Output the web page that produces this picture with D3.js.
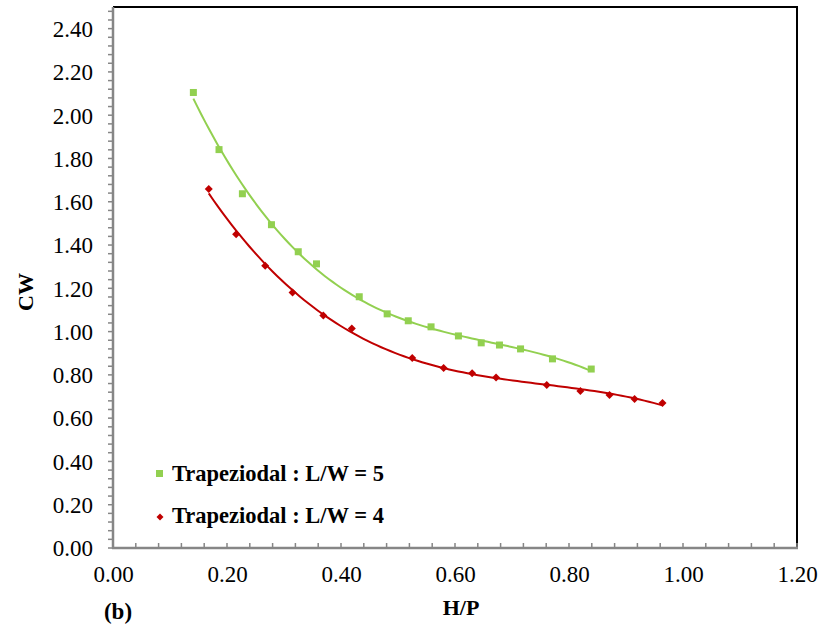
<!DOCTYPE html>
<html>
<head>
<meta charset="utf-8">
<script src="https://cdn.jsdelivr.net/npm/d3@7"></script>
<style>
  html, body { margin: 0; padding: 0; background: #fff; }
  svg { display: block; }
  text { font-family: "Liberation Serif", "Times New Roman", serif; fill: #000; }
</style>
</head>
<body>
<svg id="chart" width="831" height="625"></svg>
<script>
// ---- data ----
const hpL5 = [0.141, 0.186, 0.227, 0.278, 0.325, 0.357, 0.432, 0.481, 0.518, 0.558, 0.606, 0.646, 0.678, 0.715, 0.771, 0.839];
const cwL5 = [2.105, 1.841, 1.637, 1.494, 1.369, 1.313, 1.161, 1.082, 1.050, 1.022, 0.980, 0.948, 0.938, 0.920, 0.874, 0.827];
const hpL4 = [0.168, 0.216, 0.267, 0.315, 0.369, 0.419, 0.525, 0.580, 0.630, 0.672, 0.761, 0.820, 0.871, 0.915, 0.964];
const cwL4 = [1.659, 1.450, 1.304, 1.181, 1.074, 1.014, 0.878, 0.832, 0.807, 0.788, 0.753, 0.725, 0.707, 0.688, 0.670];
const seriesNames = ["Trapeziodal : L/W = 5", "Trapeziodal : L/W = 4"];
const xTicks = [0, 0.2, 0.4, 0.6, 0.8, 1.0, 1.2];
const yTicks = [0, 0.2, 0.4, 0.6, 0.8, 1.0, 1.2, 1.4, 1.6, 1.8, 2.0, 2.2, 2.4];

const svg = d3.select("#chart");
const L = 113, R = 797, T = 7, B = 548;
const x = d3.scaleLinear().domain([0, 1.2]).range([L, R]);
const y = d3.scaleLinear().domain([0, 2.5]).range([B, T]);
const FONT = '"Liberation Serif", "Times New Roman", serif';

// least-squares polynomial trendline
function polyfit(xs, ys, deg) {
  const n = deg + 1;
  const A = Array.from({length: n}, () => new Array(n + 1).fill(0));
  for (let k = 0; k < xs.length; k++) {
    for (let i = 0; i < n; i++) {
      for (let j = 0; j < n; j++) A[i][j] += Math.pow(xs[k], i + j);
      A[i][n] += ys[k] * Math.pow(xs[k], i);
    }
  }
  for (let i = 0; i < n; i++) {
    let p = i;
    for (let r = i + 1; r < n; r++) if (Math.abs(A[r][i]) > Math.abs(A[p][i])) p = r;
    [A[i], A[p]] = [A[p], A[i]];
    for (let r = 0; r < n; r++) {
      if (r === i) continue;
      const f = A[r][i] / A[i][i];
      for (let c = i; c <= n; c++) A[r][c] -= f * A[i][c];
    }
  }
  const coef = A.map((row, i) => row[n] / row[i]);
  return v => coef.reduce((s, c, i) => s + c * Math.pow(v, i), 0);
}

// frame (top & right black)
svg.append("line").attr("x1", L).attr("x2", R + 1).attr("y1", T).attr("y2", T)
  .attr("stroke", "#000").attr("stroke-width", 2);
svg.append("line").attr("x1", R).attr("x2", R).attr("y1", T).attr("y2", B)
  .attr("stroke", "#000").attr("stroke-width", 2);

// minor ticks
const gray = "#868686";
const xMinor = d3.range(0, 1.2001, 0.04);
const yMinor = d3.range(0, 2.5001, 0.04);
svg.append("g").selectAll("line").data(xMinor).join("line")
  .attr("x1", d => x(d)).attr("x2", d => x(d))
  .attr("y1", B).attr("y2", B - 5)
  .attr("stroke", gray).attr("stroke-width", 1.5);
svg.append("g").selectAll("line").data(yMinor).join("line")
  .attr("x1", L).attr("x2", L - 5)
  .attr("y1", d => y(d)).attr("y2", d => y(d))
  .attr("stroke", gray).attr("stroke-width", 1.5);

// axes
const xAxis = d3.axisBottom(x).tickValues(xTicks).tickFormat(d3.format(".2f")).tickSize(0);
const yAxis = d3.axisLeft(y).tickValues(yTicks).tickFormat(d3.format(".2f")).tickSize(0);
const gx = svg.append("g").attr("transform", `translate(0,${B})`).call(xAxis);
const gy = svg.append("g").attr("transform", `translate(${L},0)`).call(yAxis);
[gx, gy].forEach(g => {
  g.attr("font-family", FONT).attr("font-size", 23);
  g.select(".domain").attr("stroke", gray).attr("stroke-width", 2.5);
  g.selectAll("text").style("font-family", FONT).style("font-size", "23px").attr("fill", "#000");
});
gx.select(".domain").attr("d", `M${L - 1},0H${R + 1}`);
gy.select(".domain").attr("d", `M0,${B + 1}V${T}`);
gx.selectAll("text").attr("dy", null).attr("y", 34);
gy.selectAll("text").attr("x", -20).attr("dy", "0.34em");

// trendlines
const series = [
  {xs: hpL5, ys: cwL5, color: "#92D050", shape: "square"},
  {xs: hpL4, ys: cwL4, color: "#C00000", shape: "diamond"}
];
const line = d3.line().x(d => x(d[0])).y(d => y(d[1]));
series.forEach(s => {
  const f = polyfit(s.xs, s.ys, 3);
  const x0 = d3.min(s.xs), x1 = d3.max(s.xs);
  const pts = d3.range(0, 101).map(i => { const v = x0 + (x1 - x0) * i / 100; return [v, f(v)]; });
  svg.append("path").attr("d", line(pts)).attr("fill", "none")
    .attr("stroke", s.color).attr("stroke-width", 2);
});

// markers
const diamond = "M0,-4L4,0L0,4L-4,0Z";
series.forEach(s => {
  const pts = s.xs.map((v, i) => [v, s.ys[i]]);
  if (s.shape === "square") {
    svg.append("g").selectAll("rect").data(pts).join("rect")
      .attr("x", d => x(d[0]) - 3.5).attr("y", d => y(d[1]) - 3.5)
      .attr("width", 7).attr("height", 7).attr("fill", s.color);
  } else {
    svg.append("g").selectAll("path").data(pts).join("path")
      .attr("d", diamond)
      .attr("transform", d => `translate(${x(d[0])},${y(d[1])})`)
      .attr("fill", s.color);
  }
});

// legend
const leg = svg.append("g");
leg.append("rect").attr("x", 156).attr("y", 470).attr("width", 7).attr("height", 7).attr("fill", "#92D050");
leg.append("path").attr("d", "M0,-3.5L3.5,0L0,3.5L-3.5,0Z").attr("transform", "translate(160,517)").attr("fill", "#C00000");
leg.append("text").attr("x", 172).attr("y", 481).style("font-size", "22.5px").style("font-weight", "bold").text(seriesNames[0]);
leg.append("text").attr("x", 172).attr("y", 523).style("font-size", "22.5px").style("font-weight", "bold").text(seriesNames[1]);

// axis titles
svg.append("text").attr("transform", "translate(33,292) rotate(-90)").attr("text-anchor", "middle")
  .style("font-size", "22px").style("font-weight", "bold").text("CW");
svg.append("text").attr("x", 461).attr("y", 615).attr("text-anchor", "middle")
  .style("font-size", "22px").style("font-weight", "bold").text("H/P");
svg.append("text").attr("x", 118).attr("y", 619).attr("text-anchor", "middle")
  .style("font-size", "23px").style("font-weight", "bold").text("(b)");
</script>
</body>
</html>
